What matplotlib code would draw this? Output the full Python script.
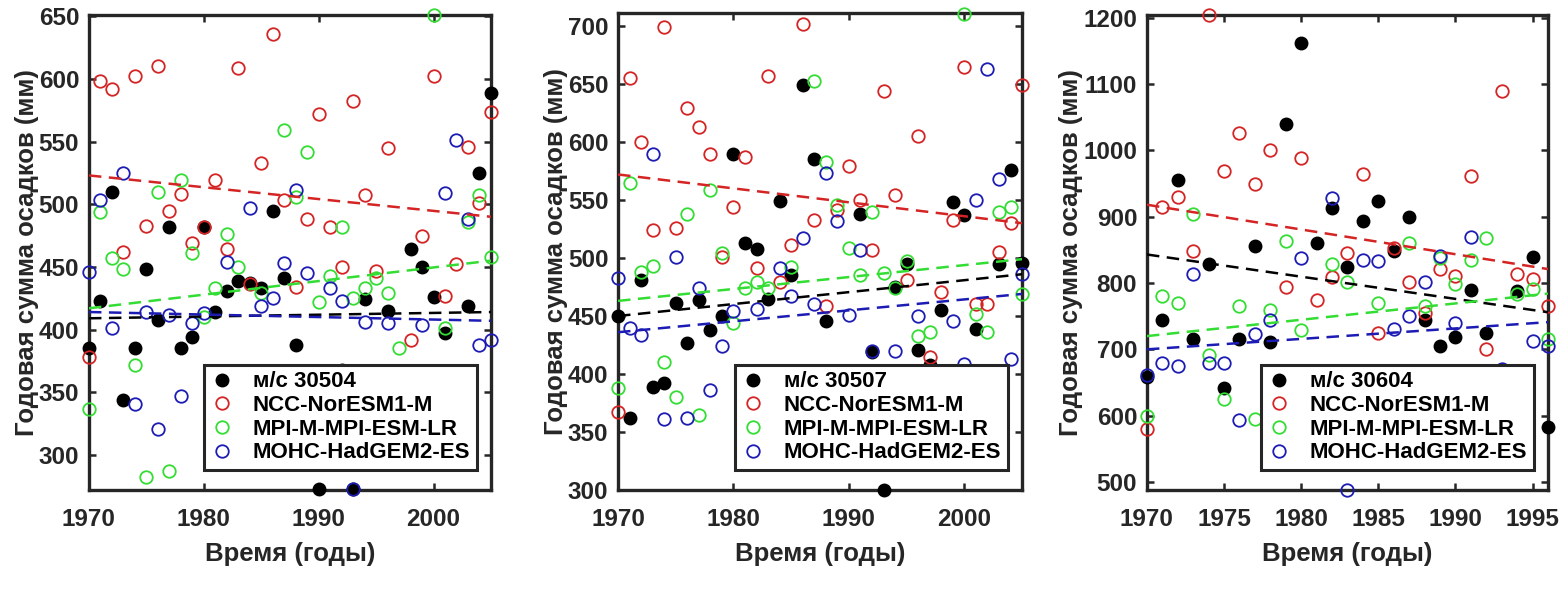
import numpy as np
import matplotlib
matplotlib.use("Agg")
import matplotlib.pyplot as plt

plt.rcParams['font.family'] = ['Liberation Sans', 'DejaVu Sans']
plt.rcParams['font.weight'] = 'bold'

nan = np.nan

# --- station 30504 (1970-2005) ---
years1 = list(range(1970, 2006))
obs1 = [385, 423, 510, 344, 385, 448, 408, 482, 385, 394, 482, 414, 431, 439, 437, 433, 495, 441,
        388, nan, 273, nan, 368, 273, 424, nan, 415, nan, 464, 450, 426, 397, nan, 419, 525, 589]
ncc1 = [378, 598, 592, 462, 602, 483, 610, 495, 508, 469, 482, 519, 464, 609, 436, 533, 636, 503,
        434, 488, 572, 482, 450, 582, 507, 447, 545, nan, 392, 475, 602, 427, 452, 546, 501, 574]
mpi1 = [337, 494, 457, 448, 372, 282, 510, 287, 519, 461, 410, 433, 476, 450, nan, 429, 362, 559,
        506, 542, 422, 443, 482, 425, 433, 441, 429, 385, nan, nan, 651, 401, 360, 486, 507, 458]
mohc1 = [446, 503, 401, 525, 341, 414, 321, 412, 347, 405, 413, nan, 454, nan, 497, 419, 425, 453,
         511, 445, 361, 433, 423, 273, 406, 360, 405, nan, nan, 404, nan, 509, 551, 488, 388, 392]
trend1 = {'obs': (409, 414), 'ncc': (523, 490), 'mpi': (417, 455), 'mohc': (414, 407)}

# --- station 30507 (1970-2005) ---
years2 = list(range(1970, 2006))
obs2 = [450, 362, 481, 389, 392, 461, 427, 464, 438, 450, 590, 513, 508, 465, 549, 485, 649, 585,
        446, 398, nan, 538, 419, 300, 475, 495, 421, 408, 455, 548, 537, 439, 396, 495, 576, 496]
ncc2 = [367, 655, 600, 524, 699, 526, 629, 613, 590, 501, 544, 587, 491, 657, 479, 511, 702, 533,
        459, 541, 579, 550, 507, 644, 554, 481, 605, 415, 471, 533, 665, 460, 460, 505, 530, 649]
mpi2 = [388, 565, 488, 493, 410, 380, 538, 365, 559, 504, 444, 474, 479, 474, nan, 492, nan, 653,
        583, 546, 509, 485, 540, 487, 474, 497, 433, 436, nan, 400, 710, 452, 436, 540, 544, 469]
mohc2 = [483, 440, 434, 590, 361, 501, 362, 474, 386, 424, 454, nan, 456, nan, 491, 467, 517, 460,
         573, 532, 451, 507, 420, nan, 420, 398, 450, nan, nan, 446, 409, 550, 663, 568, 413, 486]
trend2 = {'obs': (450, 486), 'ncc': (572, 530), 'mpi': (463, 499), 'mohc': (436, 469)}

# --- station 30604 (1970-1996) ---
years3 = list(range(1970, 1997))
obs3 = [658, 745, 956, 716, 828, 641, 715, 856, 711, 1040, 1162, 860, 913, 824, 893, 924, 848, 899,
        745, 705, 718, 790, 724, nan, 788, 839, 583]
ncc3 = [580, 914, 930, 849, 1204, 969, 1026, 949, 1000, 794, 989, 774, 809, 845, 964, 724, 853, 801,
        755, 821, 810, 961, 701, 1089, 814, 806, 766]
mpi3 = [599, 780, 770, 904, 692, 625, 765, 595, 760, 863, 729, 665, 828, 801, nan, 770, nan, 860,
        766, 838, 798, 834, 868, 665, 784, 791, 716]
mohc3 = [662, 680, 675, 813, 680, 680, 593, 723, 745, 660, 838, nan, 928, 488, 834, 833, 731, 751,
         801, 840, 739, 869, nan, 670, nan, 713, 705]
trend3 = {'obs': (843, 756), 'ncc': (918, 821), 'mpi': (720, 784), 'mohc': (700, 741)}

labels_models = ['NCC-NorESM1-M', 'MPI-M-MPI-ESM-LR', 'MOHC-HadGEM2-ES']
colors = {'obs': '#000000', 'ncc': '#d42424', 'mpi': '#33dd33', 'mohc': '#1c1cb4'}
txt = '#262626'

panels = [
    dict(years=years1, obs=obs1, ncc=ncc1, mpi=mpi1, mohc=mohc1, trend=trend1, station='м/с 30504',
         xlim=(1970, 2005), ylim=(272, 651), xticks=range(1970, 2001, 10), yticks=range(300, 651, 50),
         pos=[0.0569, 0.1737, 0.2572, 0.801]),
    dict(years=years2, obs=obs2, ncc=ncc2, mpi=mpi2, mohc=mohc2, trend=trend2, station='м/с 30507',
         xlim=(1970, 2005), ylim=(300, 711), xticks=range(1970, 2001, 10), yticks=range(300, 701, 50),
         pos=[0.3954, 0.1737, 0.2585, 0.804]),
    dict(years=years3, obs=obs3, ncc=ncc3, mpi=mpi3, mohc=mohc3, trend=trend3, station='м/с 30604',
         xlim=(1970, 1996), ylim=(488, 1204), xticks=range(1970, 1996, 5), yticks=range(500, 1201, 100),
         pos=[0.7338, 0.1737, 0.2566, 0.801]),
]

fig = plt.figure(figsize=(15.63, 5.93), dpi=100)

for p in panels:
    ax = fig.add_axes(p['pos'])
    yrs = np.array(p['years'])
    ms = 9
    ax.plot(yrs, p['obs'], 'o', color='k', ms=ms, label=p['station'], clip_on=False, zorder=3)
    for key, lab in zip(['ncc', 'mpi', 'mohc'], labels_models):
        ax.plot(yrs, p[key], 'o', mfc='none', mec=colors[key], mew=1.3, ms=ms, label=lab,
                clip_on=False, zorder=3)
    for key in ['obs', 'ncc', 'mpi', 'mohc']:
        y0, y1 = p['trend'][key]
        ax.plot(p['xlim'], [y0, y1], color=colors[key], lw=1.8, dashes=(5, 3), zorder=4)

    ax.set_xlim(p['xlim'])
    ax.set_ylim(p['ylim'])
    ax.set_xticks(list(p['xticks']))
    ax.set_yticks(list(p['yticks']))
    ax.tick_params(direction='in', length=5, width=1.8, top=True, right=True,
                   labelsize=17.5, colors=txt, pad=7)
    ax.tick_params(axis='x', pad=13)
    for lab in ax.get_xticklabels() + ax.get_yticklabels():
        lab.set_fontweight('bold')
    for s in ax.spines.values():
        s.set_linewidth(2.4)
        s.set_color(txt)
    ax.set_xlabel('Время (годы)', fontsize=18.5, fontweight='bold', color=txt, labelpad=8)
    ax.set_ylabel('Годовая сумма осадков (мм)', fontsize=18.5, fontweight='bold', color=txt, labelpad=0)

    leg = ax.legend(loc='lower right', bbox_to_anchor=(0.965, 0.042), fontsize=16,
                    handlelength=1.0, handletextpad=0.9, labelspacing=0.12, borderpad=0.3,
                    fancybox=False, framealpha=1, edgecolor=txt, borderaxespad=0)
    leg.get_frame().set_linewidth(2.2)
    leg.set_zorder(10)
    for t in leg.get_texts():
        t.set_color('k')
        t.set_fontweight('bold')

fig.savefig('out.png', dpi=100)
